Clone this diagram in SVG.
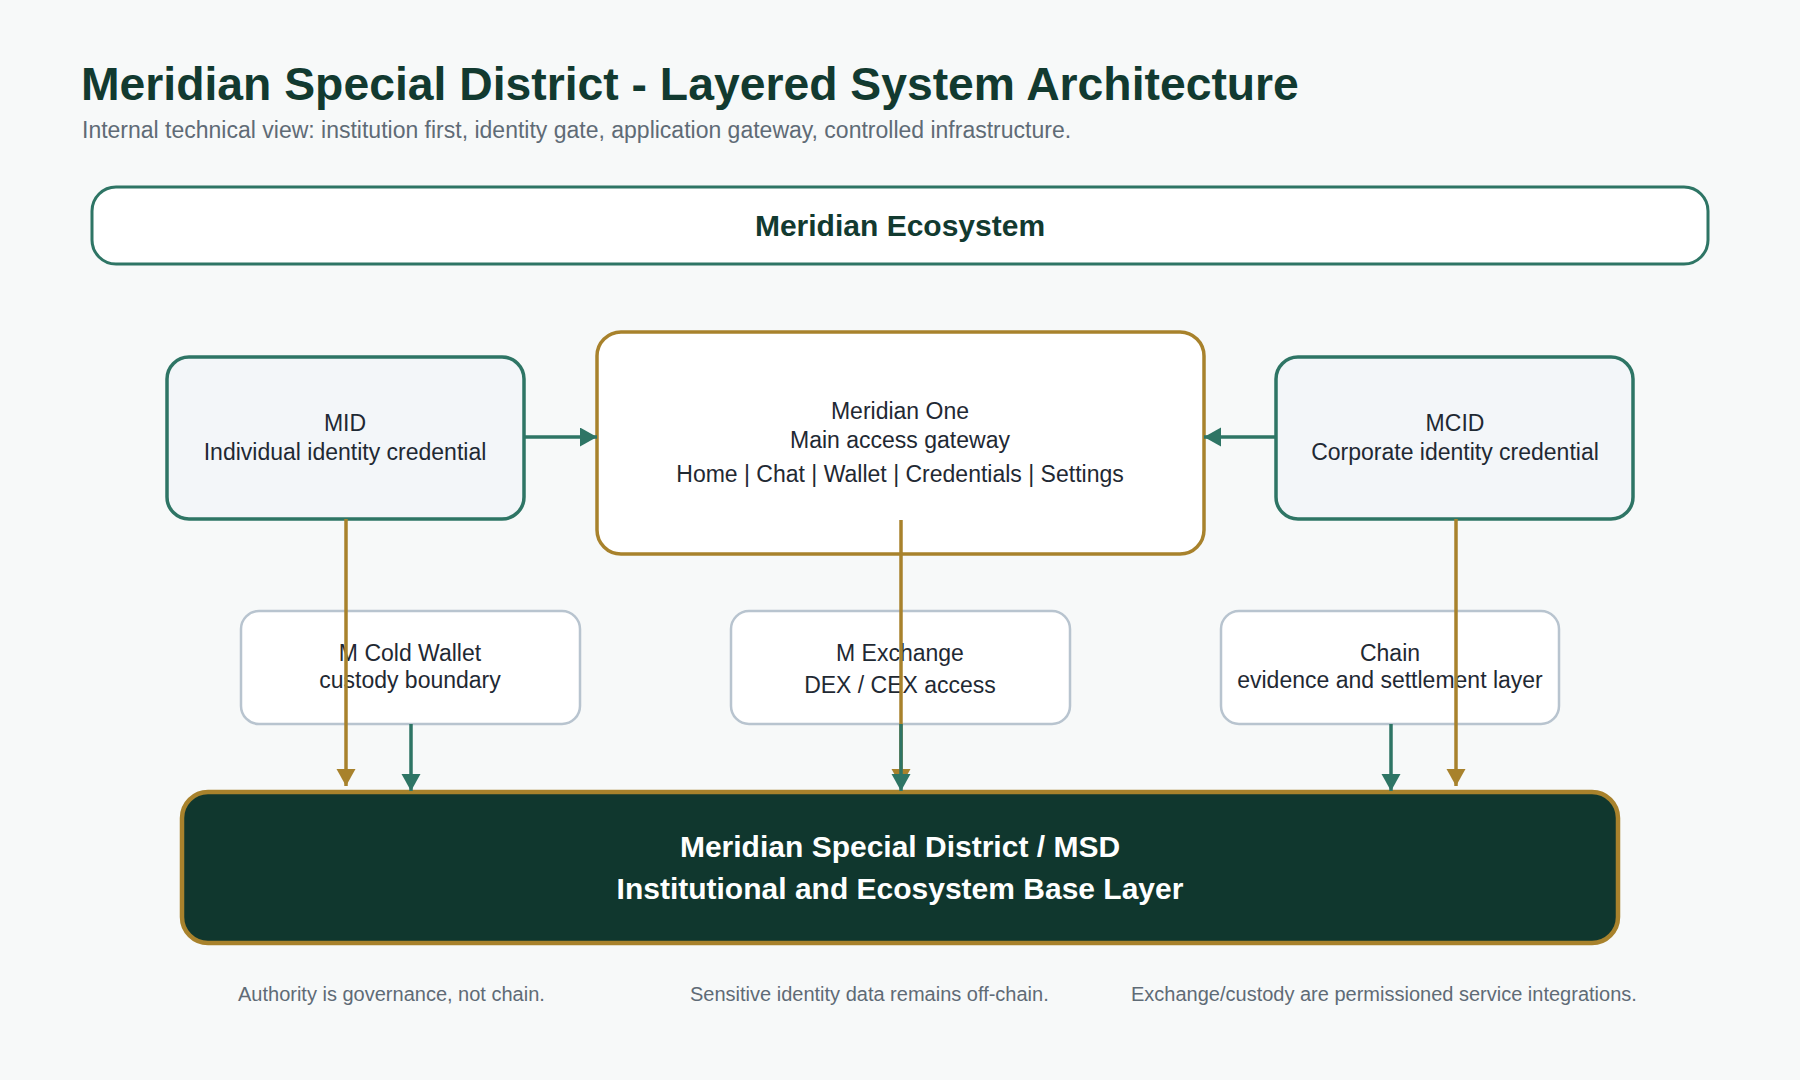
<svg xmlns="http://www.w3.org/2000/svg" width="1800" height="1080" viewBox="0 0 1800 1080">
  <defs>
    <style>
      .title { font-family: "Liberation Sans", Arial, sans-serif; font-weight: bold; font-size: 46.3px; fill: #123a30; }
      .sub { font-family: "Liberation Sans", Arial, sans-serif; font-size: 23px; fill: #5f6b76; }
      .eco { font-family: "Liberation Sans", Arial, sans-serif; font-weight: bold; font-size: 30px; fill: #123a30; text-anchor: middle; }
      .lbl { font-family: "Liberation Sans", Arial, sans-serif; font-size: 23px; fill: #1f2933; text-anchor: middle; }
      .base { font-family: "Liberation Sans", Arial, sans-serif; font-weight: bold; font-size: 30px; fill: #ffffff; text-anchor: middle; }
      .note { font-family: "Liberation Sans", Arial, sans-serif; font-size: 20px; fill: #5f6b76; }
      .idbox { fill: #f3f6f9; stroke: #2e7565; stroke-width: 3.5; }
      .gw { fill: #ffffff; stroke: #a8822c; stroke-width: 3.5; }
      .svc { fill: #ffffff; stroke: #b8c4cf; stroke-width: 2.5; }
      .teal { stroke: #2e7565; stroke-width: 3.5; fill: none; }
      .gold { stroke: #a8822c; stroke-width: 3.5; fill: none; }
    </style>
    <marker id="aTeal" markerUnits="userSpaceOnUse" markerWidth="18" markerHeight="20" refX="17" refY="9.5" orient="auto">
      <path d="M0,0 L17,9.5 L0,19 z" fill="#2e7565"/>
    </marker>
    <marker id="aGold" markerUnits="userSpaceOnUse" markerWidth="18" markerHeight="20" refX="17" refY="9.5" orient="auto">
      <path d="M0,0 L17,9.5 L0,19 z" fill="#a8822c"/>
    </marker>
  </defs>

  <rect x="0" y="0" width="1800" height="1080" fill="#f7f9f9"/>

  <g id="header">
    <text class="title" x="81" y="100">Meridian Special District - Layered System Architecture</text>
    <text class="sub" x="82" y="138">Internal technical view: institution first, identity gate, application gateway, controlled infrastructure.</text>
  </g>

  <g id="node-ecosystem">
    <rect x="92" y="187" width="1616" height="77" rx="24" fill="#ffffff" stroke="#2e7565" stroke-width="3"/>
    <text class="eco" x="900" y="236">Meridian Ecosystem</text>
  </g>

  <g id="node-mid">
    <rect class="idbox" x="167" y="357" width="357" height="162" rx="22"/>
    <text class="lbl" x="345" y="431">MID</text>
    <text class="lbl" x="345" y="460">Individual identity credential</text>
  </g>

  <g id="node-meridian-one">
    <rect class="gw" x="597" y="332" width="607" height="222" rx="24"/>
    <text class="lbl" x="900" y="419">Meridian One</text>
    <text class="lbl" x="900" y="448">Main access gateway</text>
    <text class="lbl" x="900" y="482">Home | Chat | Wallet | Credentials | Settings</text>
  </g>

  <g id="node-mcid">
    <rect class="idbox" x="1276" y="357" width="357" height="162" rx="22"/>
    <text class="lbl" x="1455" y="431">MCID</text>
    <text class="lbl" x="1455" y="460">Corporate identity credential</text>
  </g>

  <g id="node-cold-wallet">
    <rect class="svc" x="241" y="611" width="339" height="113" rx="18"/>
    <text class="lbl" x="410" y="661">M Cold Wallet</text>
    <text class="lbl" x="410" y="688">custody boundary</text>
  </g>

  <g id="node-exchange">
    <rect class="svc" x="731" y="611" width="339" height="113" rx="18"/>
    <text class="lbl" x="900" y="661">M Exchange</text>
    <text class="lbl" x="900" y="693">DEX / CEX access</text>
  </g>

  <g id="node-chain">
    <rect class="svc" x="1221" y="611" width="338" height="113" rx="18"/>
    <text class="lbl" x="1390" y="661">Chain</text>
    <text class="lbl" x="1390" y="688">evidence and settlement layer</text>
  </g>

  <g id="node-msd">
    <rect x="182" y="792" width="1436" height="151" rx="26" fill="#10372e" stroke="#a8822c" stroke-width="4.5"/>
    <text class="base" x="900" y="857">Meridian Special District / MSD</text>
    <text class="base" x="900" y="899">Institutional and Ecosystem Base Layer</text>
  </g>

  <g id="connectors">
    <line class="teal" x1="524" y1="437" x2="597" y2="437" marker-end="url(#aTeal)"/>
    <line class="teal" x1="1276" y1="437" x2="1204" y2="437" marker-end="url(#aTeal)"/>
    <line class="gold" x1="346" y1="519" x2="346" y2="786" marker-end="url(#aGold)"/>
    <line class="gold" x1="1456" y1="519" x2="1456" y2="786" marker-end="url(#aGold)"/>
    <line class="gold" x1="901" y1="520" x2="901" y2="786" marker-end="url(#aGold)"/>
    <line class="teal" x1="411" y1="724" x2="411" y2="791" marker-end="url(#aTeal)"/>
    <line class="teal" x1="901" y1="724" x2="901" y2="791" marker-end="url(#aTeal)"/>
    <line class="teal" x1="1391" y1="724" x2="1391" y2="791" marker-end="url(#aTeal)"/>
  </g>

  <g id="notes">
    <text class="note" x="238" y="1001">Authority is governance, not chain.</text>
    <text class="note" x="690" y="1001">Sensitive identity data remains off-chain.</text>
    <text class="note" x="1131" y="1001">Exchange/custody are permissioned service integrations.</text>
  </g>
</svg>
